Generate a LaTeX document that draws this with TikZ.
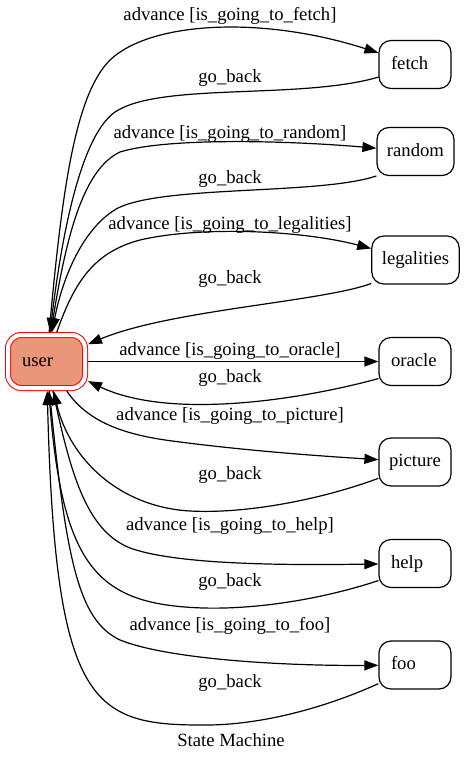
\documentclass[tikz,border=0pt]{standalone}
\usepackage{fontspec}
\setmainfont{Liberation Serif}
\usetikzlibrary{arrows.meta}
\definecolor{dsalmon}{RGB}{233,150,122}
\begin{document}
\begin{tikzpicture}[x=0.75pt,y=-0.75pt,
  every node/.style={font=\fontsize{14pt}{16pt}\selectfont},
  state/.style={draw=black, line width=0.9pt, rounded corners=9pt, minimum height=36pt, minimum width=54pt, inner xsep=7.5pt, inner ysep=0pt, text height=9pt, text depth=2.2pt, outer sep=0.45pt},
  lstate/.style={state, text width=36pt, align=left, inner xsep=9pt},
  userstate/.style={draw=red, line width=0.75pt, double=white, double distance=3pt, fill=dsalmon, rounded corners=10pt, minimum width=57.75pt, minimum height=39.75pt, text width=36.75pt, align=left, inner xsep=10.5pt, inner ysep=0pt, text height=9pt, text depth=2.2pt, outer sep=2.25pt},
  conn/.style={draw, line width=0.9pt, -{Triangle[length=10.5pt,width=7.5pt]}},
  elabel/.style={anchor=base, inner sep=0pt}
]
\fill[white] (0,0) rectangle (464,761);
\useasboundingbox (0,0) rectangle (464,761);

% nodes
\node[userstate] (user) at (46.5,361.5) {user};
\node[lstate] (fetch) at (415,64.5) {fetch};
\node[state] (random) at (415.5,151.5) {random};
\node[state] (legalities) at (415.5,260) {legalities};
\node[lstate] (oracle) at (415,361.5) {oracle};
\node[state] (picture) at (415,462) {picture};
\node[lstate] (help) at (415,563.5) {help};
\node[lstate] (foo) at (415,665) {foo};

% edges
\draw[conn] (user) .. controls (62,190) and (75,95) .. (110,60) .. controls (150,22) and (260,15) .. (fetch);
\draw[conn] (fetch.-161) .. controls (300,100) and (160,82) .. (115,112) .. controls (78,138) and (60,250) .. (user);
\draw[conn] (user) .. controls (65,240) and (82,170) .. (120,152) .. controls (165,138) and (280,140) .. (random);
\draw[conn] (random.-148) .. controls (320,195) and (165,185) .. (118,208) .. controls (82,228) and (62,280) .. (user);
\draw[conn] (user) .. controls (75,280) and (95,252) .. (140,240) .. controls (200,226) and (300,230) .. (legalities);
\draw[conn] (legalities.-152) .. controls (320,302) and (170,310) .. (user);
\draw[conn] (user) -- (oracle);
\draw[conn] (oracle.-155) .. controls (300,400) and (170,420) .. (user);
\draw[conn] (user) .. controls (90,425) and (130,436) .. (180,442) .. controls (250,451) and (320,456) .. (picture);
\draw[conn] (picture.-156) .. controls (320,500) and (245,514) .. (190,511) .. controls (120,507) and (70,460) .. (user);
\draw[conn] (user) .. controls (70,470) and (85,530) .. (130,548) .. controls (180,566) and (300,565) .. (help);
\draw[conn] (help.-155) .. controls (320,600) and (245,612) .. (185,607) .. controls (95,600) and (62,560) .. (user);
\draw[conn] (user) .. controls (66,560) and (78,620) .. (120,640) .. controls (170,660) and (290,666) .. (foo);
\draw[conn] (foo.-153) .. controls (320,710) and (255,726) .. (200,725) .. controls (90,725) and (55,700) .. (user);

% labels
\node[elabel] (l1) at (230,20) {advance [is\_going\_to\_fetch]};
\node[elabel] (l2) at (230,82) {go\_back};
\node[elabel] (l3) at (230,138) {advance [is\_going\_to\_random]};
\node[elabel] (l4) at (230,183) {go\_back};
\node[elabel] (l5) at (230,229) {advance [is\_going\_to\_legalities]};
\node[elabel] (l6) at (230,283) {go\_back};
\node[elabel] (l7) at (230,355) {advance [is\_going\_to\_oracle]};
\node[elabel] (l8) at (230,382) {go\_back};
\node[elabel] (l9) at (230,420) {advance [is\_going\_to\_picture]};
\node[elabel] (l10) at (230,479) {go\_back};
\node[elabel] (l11) at (230,530) {advance [is\_going\_to\_help]};
\node[elabel] (l12) at (230,586) {go\_back};
\node[elabel] (l13) at (230,630) {advance [is\_going\_to\_foo]};
\node[elabel] (l14) at (230,687) {go\_back};
\node[elabel] (title) at (231,746) {State Machine};
\end{tikzpicture}
\end{document}
